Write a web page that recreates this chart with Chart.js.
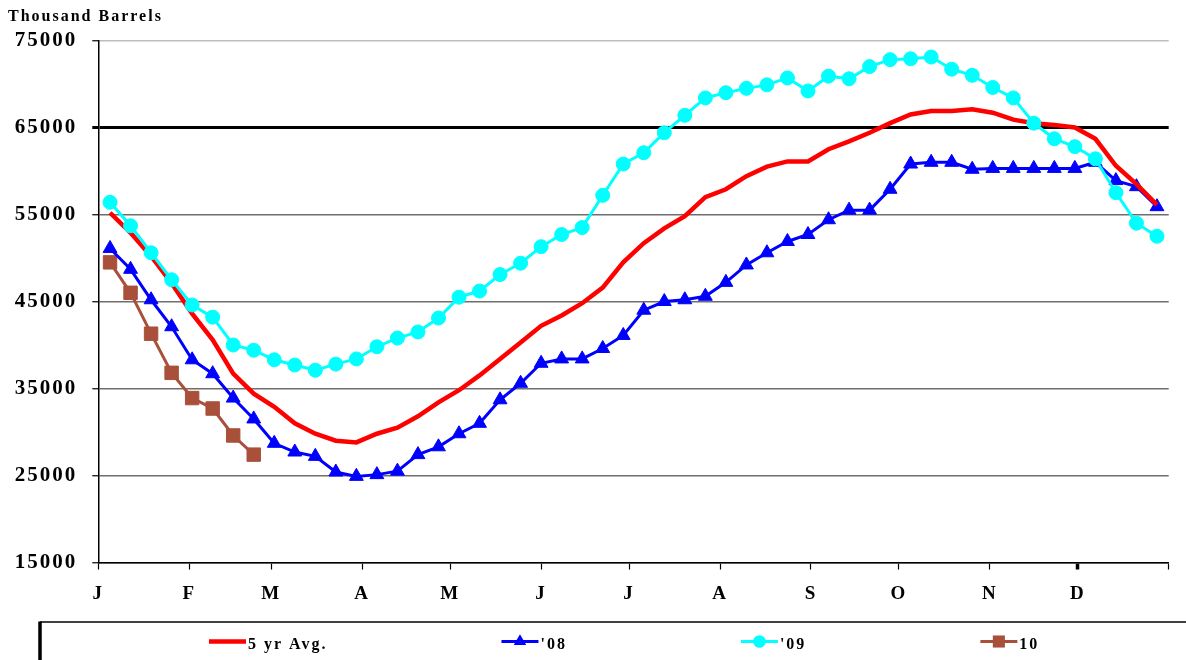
<!DOCTYPE html>
<html><head><meta charset="utf-8">
<script src="https://cdn.jsdelivr.net/npm/chart.js@4.4.1/dist/chart.umd.min.js"></script>
<style>html,body{margin:0;padding:0;background:#fff;} #wrap{width:1186px;height:660px;}</style>
</head><body><div id="wrap"><canvas id="c" width="1186" height="660"></canvas></div>
<script>
// Week-ending day of year (weekly data)
const weekDays = [4,11,18,25,32,39,46,53,60,67,74,81,88,95,102,109,116,123,130,137,144,151,158,165,172,179,186,193,200,207,214,221,228,235,242,249,256,263,270,277,284,291,298,305,312,319,326,333,340,347,354,361];
const monthStarts = [0,31,59,90,120,151,181,212,243,273,304,334,365];
const monthLabels = ['J','F','M','A','M','J','J','A','S','O','N','D',''];
const yTicks = [15000,25000,35000,45000,55000,65000,75000];
const seriesNames = ['5 yr Avg.', "'08", "'09", '10'];

const avg5yr = [55200,52900,50200,47100,43600,40600,36700,34400,32900,31000,29800,29000,28800,29800,30500,31800,33400,34800,36500,38400,40300,42200,43400,44800,46600,49500,51700,53400,54800,57000,57900,59400,60500,61100,61100,62500,63400,64400,65500,66500,66900,66900,67100,66700,65900,65500,65300,65000,63700,60600,58500,56100];
const y2008 = [51100,48700,45200,42100,38300,36700,33900,31500,28700,27700,27200,25400,24900,25100,25500,27400,28300,29800,31000,33700,35600,37900,38400,38400,39600,41100,44000,45000,45200,45600,47200,49200,50600,51900,52700,54400,55500,55500,57900,60800,61000,61000,60200,60300,60300,60300,60300,60300,61000,58900,58200,55900];
const y2009 = [56400,53700,50600,47500,44600,43200,40000,39400,38300,37700,37100,37800,38400,39800,40800,41500,43100,45500,46200,48100,49400,51300,52700,53500,57200,60800,62100,64400,66400,68400,69000,69500,69900,70700,69200,70900,70600,72000,72800,72900,73100,71700,71000,69600,68400,65500,63700,62800,61400,57500,54000,52500];
const y2010 = [49500,46000,41300,36800,33900,32700,29600,27400];

const FONT = "'Liberation Serif','Times New Roman',serif";
const toPts = vals => vals.map((v, i) => ({x: weekDays[i], y: v}));

const spacingPlugin = {
  id: 'spacing',
  beforeDraw(chart) { chart.ctx.letterSpacing = '2px'; }
};

function marker(ctx, style, x, y, r, color) {
  ctx.fillStyle = color;
  ctx.beginPath();
  if (style === 'triangle') {
    ctx.moveTo(x, y - r);
    ctx.lineTo(x + r * 0.866, y + r * 0.5);
    ctx.lineTo(x - r * 0.866, y + r * 0.5);
    ctx.closePath();
  } else if (style === 'circle') {
    ctx.arc(x, y, r, 0, Math.PI * 2);
  } else if (style === 'rect') {
    const s = r * Math.SQRT1_2;
    ctx.rect(x - s, y - s, 2 * s, 2 * s);
  }
  ctx.fill();
}

const legendPlugin = {
  id: 'customLegend',
  afterDraw(chart) {
    const ctx = chart.ctx;
    const top = chart.scales.x.bottom;
    const frameLeft = 40;
    ctx.save();
    ctx.letterSpacing = '2px';
    ctx.strokeStyle = '#000';
    ctx.lineWidth = 1.5;
    ctx.beginPath(); ctx.moveTo(frameLeft, top + 0.5); ctx.lineTo(chart.width, top + 0.5); ctx.stroke();
    ctx.lineWidth = 3.5;
    ctx.beginPath(); ctx.moveTo(frameLeft, top); ctx.lineTo(frameLeft, chart.height); ctx.stroke();
    ctx.font = 'bold 16px ' + FONT;
    ctx.textBaseline = 'middle';
    ctx.textAlign = 'left';
    let x = frameLeft + 169;
    const ly = top + 20;
    chart.data.datasets.forEach(ds => {
      const len = 37;
      ctx.strokeStyle = ds.borderColor;
      ctx.lineWidth = ds.borderWidth;
      ctx.beginPath(); ctx.moveTo(x, ly); ctx.lineTo(x + len, ly); ctx.stroke();
      if (ds.pointRadius > 0) marker(ctx, ds.pointStyle, x + len / 2, ly, ds.pointRadius * 0.9, ds.backgroundColor);
      ctx.fillStyle = '#000';
      ctx.fillText(ds.label, x + len + 2, ly + 3);
      const w = ctx.measureText(ds.label).width;
      x += len + 2 + w + 174;
    });
    ctx.restore();
  }
};

new Chart(document.getElementById('c').getContext('2d'), {
  type: 'line',
  data: {
    datasets: [
      {label: seriesNames[0], data: toPts(avg5yr), borderColor: '#FF0000', backgroundColor: '#FF0000', borderWidth: 4.5, pointRadius: 0, tension: 0, order: 1},
      {label: seriesNames[1], data: toPts(y2008), borderColor: '#0000FF', backgroundColor: '#0000FF', borderWidth: 3, pointStyle: 'triangle', pointRadius: 8, pointBorderWidth: 1, tension: 0, order: 2},
      {label: seriesNames[2], data: toPts(y2009), borderColor: '#00FFFF', backgroundColor: '#00FFFF', borderWidth: 3, pointStyle: 'circle', pointRadius: 7, pointBorderWidth: 1, tension: 0, order: 0},
      {label: seriesNames[3], data: toPts(y2010), borderColor: '#A8503A', backgroundColor: '#A8503A', borderWidth: 3, pointStyle: 'rect', pointRadius: 9.5, pointBorderWidth: 1, tension: 0, order: 3}
    ]
  },
  options: {
    responsive: false,
    animation: false,
    devicePixelRatio: 1,
    layout: {padding: {left: 8, right: 17.3, top: 0, bottom: 38.5}},
    plugins: {
      legend: {display: false},
      tooltip: {enabled: false},
      title: {display: true, text: 'Thousand Barrels', align: 'start', color: '#000',
        font: {family: FONT, size: 16, weight: 'bold'}, padding: {top: 7.6, bottom: 13.7}}
    },
    scales: {
      x: {
        type: 'linear', min: 0, max: 365,
        afterBuildTicks: a => { a.ticks = monthStarts.map(v => ({value: v})); },
        afterFit: a => { a.height = 59; },
        grid: {drawOnChartArea: false, drawTicks: true, tickLength: 7, tickColor: '#000',
          tickWidth: c => (c.index === 11 ? 3.5 : 1.2), color: '#000'},
        border: {display: true, color: '#000', width: 1.5},
        ticks: {autoSkip: false, maxRotation: 0, padding: 13.5, color: '#000',
          font: {family: FONT, size: 19, weight: 'bold'}, callback: (v, i) => monthLabels[i]}
      },
      y: {
        min: 15000, max: 75000,
        afterBuildTicks: a => { a.ticks = yTicks.map(v => ({value: v})); },
        afterFit: a => { a.width = 90.3; },
        grid: {
          color: c => (c.tick && c.tick.value === 65000 ? '#000' : (c.tick && c.tick.value === 75000 ? '#bdbdbd' : '#6e6e6e')),
          lineWidth: c => (c.tick && c.tick.value === 65000 ? 3 : 1.5),
          tickColor: '#000', tickLength: 6,
          tickWidth: c => (c.tick && c.tick.value === 65000 ? 3 : 1.2)
        },
        border: {color: '#000', width: 1.5},
        ticks: {padding: 15, color: '#000', font: {family: FONT, size: 21, weight: 'bold'}, callback: v => String(v)}
      }
    }
  },
  plugins: [spacingPlugin, legendPlugin]
});
</script>
</body></html>
